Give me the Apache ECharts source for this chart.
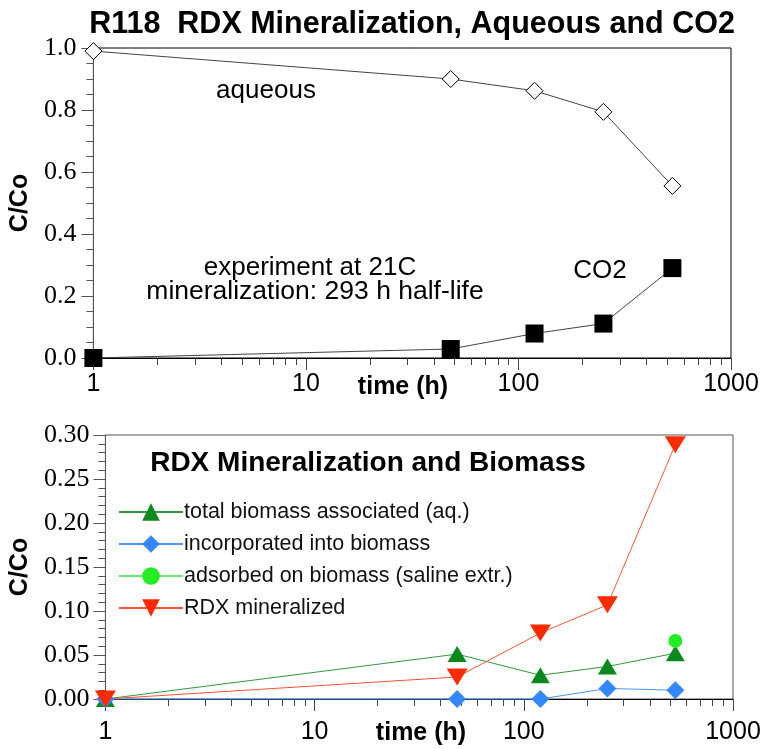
<!DOCTYPE html>
<html>
<head>
<meta charset="utf-8">
<script src="https://cdn.jsdelivr.net/npm/echarts@6/dist/echarts.min.js"></script>
<style>
html,body{margin:0;padding:0;background:#fff;}
#chart{width:765px;height:749px;}
</style>
</head>
<body>
<div id="chart"></div>
<script>
// ---- data ----
const timesTop = [1, 48, 119, 251, 530];
const aqueous = [0.99, 0.90, 0.862, 0.794, 0.555];
const co2 = [0, 0.029, 0.079, 0.111, 0.29];

const timesBottom = [1, 48, 120, 251, 530];
const totalBiomass = [0, 0.051, 0.027, 0.037, 0.052];
const incorporated = [0, 0, 0, 0.012, 0.010];
const adsorbedTimes = [530];
const adsorbed = [0.066];
const rdxMineralized = [0, 0.025, 0.075, 0.107, 0.289];

const minorTickValues = [2,3,4,5,6,7,8,9,20,30,40,50,60,70,80,90,200,300,400,500,600,700,800,900];

const legendNames = ['total biomass associated (aq.)', 'incorporated into biomass', 'adsorbed on biomass (saline extr.)', 'RDX mineralized'];

function pairs(xs, ys) { return xs.map((x, i) => [x, ys[i]]); }

const serif = '"Liberation Serif", "Times New Roman", serif';
const sans = '"Liberation Sans", Arial, sans-serif';

function mainX(grid, margin, lineColor) {
  return {
    type: 'log', gridIndex: grid, min: 1, max: 1000, logBase: 10, position: 'bottom',
    axisLine: { show: true, lineStyle: { color: lineColor, width: 1 } },
    axisTick: { show: true, inside: false, length: 12, lineStyle: { color: '#444' } },
    axisLabel: { show: true, margin: margin, fontFamily: sans, fontSize: 25, color: '#000',
      formatter: v => String(Math.round(v)) },
    splitLine: { show: false }, minorSplitLine: { show: false }
  };
}
function minorX(grid) {
  return {
    type: 'log', gridIndex: grid, min: 1, max: 1000, logBase: 10, position: 'bottom',
    axisLine: { show: false },
    axisTick: { show: true, inside: false, length: 7, customValues: minorTickValues, lineStyle: { color: '#444' } },
    axisLabel: { show: false },
    splitLine: { show: false }
  };
}

const chart = echarts.init(document.getElementById('chart'), null, { renderer: 'canvas' });

const option = {
  backgroundColor: '#fff',
  animation: false,
  title: [
    { text: 'R118  RDX Mineralization, Aqueous and CO2', left: 412, top: 9, textAlign: 'center', padding: 0,
      textStyle: { fontFamily: sans, fontWeight: 'bold', fontSize: 30.5, color: '#000' } },
    { text: 'aqueous', left: 266, top: 78, textAlign: 'center', padding: 0,
      textStyle: { fontFamily: sans, fontWeight: 'normal', fontSize: 26, color: '#000' } },
    { text: 'experiment at 21C', left: 310, top: 255, textAlign: 'center', padding: 0,
      textStyle: { fontFamily: sans, fontWeight: 'normal', fontSize: 26, color: '#000' } },
    { text: 'mineralization: 293 h half-life', left: 315, top: 278, textAlign: 'center', padding: 0,
      textStyle: { fontFamily: sans, fontWeight: 'normal', fontSize: 26.5, color: '#000' } },
    { text: 'CO2', left: 600, top: 258, textAlign: 'center', padding: 0,
      textStyle: { fontFamily: sans, fontWeight: 'normal', fontSize: 26, color: '#000' } },
    { text: 'time (h)', left: 403, top: 375, textAlign: 'center', padding: 0,
      textStyle: { fontFamily: sans, fontWeight: 'bold', fontSize: 25, color: '#000' } },
    { text: 'RDX Mineralization and Biomass', left: 368, top: 449, textAlign: 'center', padding: 0,
      textStyle: { fontFamily: sans, fontWeight: 'bold', fontSize: 28, color: '#000' } },
    { text: 'time (h)', left: 421, top: 721, textAlign: 'center', padding: 0,
      textStyle: { fontFamily: sans, fontWeight: 'bold', fontSize: 25, color: '#000' } }
  ],
  legend: {
    data: legendNames,
    orient: 'vertical', left: 118, top: 501, itemGap: 10, itemWidth: 64, itemHeight: 22,
    padding: 0,
    textStyle: { fontFamily: sans, fontSize: 21.5, color: '#111', padding: [0, 0, 0, -4] },
    selectedMode: false
  },
  grid: [
    { left: 89, right: 34, top: 48, bottom: 391, show: true, borderColor: '#000', borderWidth: 1, backgroundColor: 'transparent' },
    { left: 93, right: 32, top: 435, bottom: 50, show: true, borderColor: '#555', borderWidth: 1, backgroundColor: 'transparent' }
  ],
  xAxis: [
    mainX(0, 14, '#000'), minorX(0),
    mainX(1, 21, '#000'), minorX(1)
  ],
  yAxis: [
    { type: 'value', gridIndex: 0, min: 0, max: 1, interval: 0.2,
      name: 'C/Co', nameLocation: 'middle', nameRotate: 90, nameGap: 55,
      nameTextStyle: { fontFamily: sans, fontWeight: 'bold', fontSize: 25, color: '#000' },
      axisLine: { show: true, lineStyle: { color: '#555' } },
      axisTick: { show: true, inside: false, length: 12, lineStyle: { color: '#555' } },
      minorTick: { show: true, splitNumber: 4, length: 7, lineStyle: { color: '#555' } },
      axisLabel: { margin: 17, fontFamily: serif, fontSize: 26, color: '#000', formatter: v => v.toFixed(1) },
      splitLine: { show: false } },
    { type: 'value', gridIndex: 1, min: 0, max: 0.3, interval: 0.05,
      name: 'C/Co', nameLocation: 'middle', nameRotate: 90, nameGap: 59,
      nameTextStyle: { fontFamily: sans, fontWeight: 'bold', fontSize: 25, color: '#000' },
      axisLine: { show: true, lineStyle: { color: '#555' } },
      axisTick: { show: true, inside: false, length: 12, lineStyle: { color: '#555' } },
      minorTick: { show: true, splitNumber: 5, length: 7, lineStyle: { color: '#555' } },
      axisLabel: { margin: 16, fontFamily: serif, fontSize: 26, color: '#000', formatter: v => v.toFixed(2) },
      splitLine: { show: false } }
  ],
  series: [
    { name: 'aqueous', type: 'line', xAxisIndex: 0, yAxisIndex: 0, clip: false,
      data: pairs(timesTop, aqueous),
      symbol: 'diamond', symbolSize: 17,
      itemStyle: { color: '#fff', borderColor: '#000', borderWidth: 1 },
      lineStyle: { color: '#444', width: 1 } },
    { name: 'CO2', type: 'line', xAxisIndex: 0, yAxisIndex: 0, clip: false,
      data: pairs(timesTop, co2),
      symbol: 'rect', symbolSize: 18,
      itemStyle: { color: '#000', borderWidth: 0 },
      lineStyle: { color: '#444', width: 1 } },
    { name: legendNames[0], type: 'line', xAxisIndex: 2, yAxisIndex: 1, clip: false,
      data: pairs(timesBottom, totalBiomass),
      symbol: 'triangle', symbolSize: [19, 16],
      itemStyle: { color: '#0a8a1e', borderWidth: 0 },
      lineStyle: { color: '#2f9a40', width: 1 } },
    { name: legendNames[1], type: 'line', xAxisIndex: 2, yAxisIndex: 1, clip: false,
      data: pairs(timesBottom, incorporated),
      symbol: 'diamond', symbolSize: 18,
      itemStyle: { color: '#3388ff', borderWidth: 0 },
      lineStyle: { color: '#4a95ff', width: 1 } },
    { name: legendNames[2], type: 'line', xAxisIndex: 2, yAxisIndex: 1, clip: false,
      data: pairs(adsorbedTimes, adsorbed),
      symbol: 'circle', symbolSize: 14,
      itemStyle: { color: '#22ee22', borderWidth: 0 },
      lineStyle: { color: '#66ee66', width: 1.5 } },
    { name: legendNames[3], type: 'line', xAxisIndex: 2, yAxisIndex: 1, clip: false,
      data: pairs(timesBottom, rdxMineralized),
      symbol: 'triangle', symbolRotate: 180, symbolSize: [21, 17],
      itemStyle: { color: '#ff2a00', borderWidth: 0 },
      lineStyle: { color: '#ff5533', width: 1 } }
  ]
};

chart.setOption(option);
</script>
</body>
</html>
